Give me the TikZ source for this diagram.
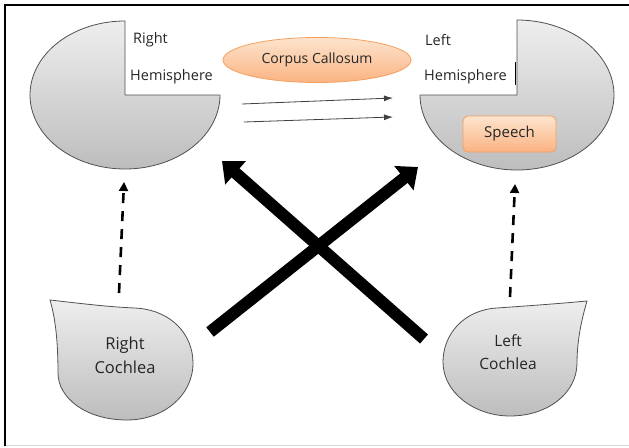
\documentclass[tikz,border=0pt]{standalone}
\usepackage{fontspec}
\setmainfont{Open Sans}
\usetikzlibrary{arrows.meta,shapes.geometric}
\definecolor{grayTop}{HTML}{EEEEEE}
\definecolor{grayBot}{HTML}{BDBDBD}
\definecolor{grayLine}{HTML}{505050}
\definecolor{orTop}{HTML}{FDE4CE}
\definecolor{orBot}{HTML}{FAB382}
\definecolor{orLine}{HTML}{F4A060}
\tikzset{
  grayshape/.style={draw=grayLine, line width=0.8pt, top color=grayTop, bottom color=grayBot},
  orangeshape/.style={draw=orLine, line width=0.8pt, top color=orTop, bottom color=orBot},
  lbl/.style={font=\fontsize{14.5}{16}\selectfont, inner sep=0pt, text=black!85},
  thinarrow/.style={draw=black!75, line width=0.8pt, -{Latex[length=9pt,width=6pt]}},
  dasharrow/.style={draw=black, line width=2.6pt, dash pattern=on 10pt off 8pt, -{Triangle[length=9pt,width=9pt]}},
  bigarrow/.style={draw=black, line width=12pt, -{Triangle[length=18pt,width=30pt]}},
}
\begin{document}
\begin{tikzpicture}[x=1pt,y=-1pt]
\useasboundingbox (0,0) rectangle (629,447);
\fill[white] (0,0) rectangle (629,447);
% frame
\draw[black!15, line width=1.2pt] (5,445.5) -- (629,445.5);
\draw[black, line width=2.2pt] (5,446) -- (5,5) -- (629,5);
% right hemisphere (missing top-right quadrant)
\path[grayshape] (125,95) -- plot[domain=90:360, samples=90, smooth] ({125+95*cos(\x)},{95-74*sin(\x)}) -- cycle;
\coordinate (RH) at (125,95);
% left hemisphere (missing top-left quadrant)
\path[grayshape] (517,95) -- plot[domain=90:-180, samples=90, smooth] ({517+97*cos(\x)},{95-75*sin(\x)}) -- cycle;
\coordinate (LH) at (517,95);
\draw[black, line width=0.9pt] (515,62) -- (515,85);
% labels
\node[lbl, anchor=west] (rt) at (133,40) {Right};
\node[lbl, anchor=west] (rh) at (130,77) {Hemisphere};
\node[lbl, anchor=west] (lt) at (425,40) {Left};
\node[lbl, anchor=west] (lhem) at (424,77) {Hemisphere};
% corpus callosum
\node[ellipse, orangeshape, minimum width=188pt, minimum height=45pt, lbl, font=\fontsize{14}{16}\selectfont] (cc) at (317,60) {Corpus Callosum};
% speech
\node[orangeshape, rounded corners=5pt, minimum width=93pt, minimum height=36pt, lbl, font=\fontsize{15}{16}\selectfont] (sp) at (509.5,134) {Speech};
% thin arrows
\coordinate (a1s) at (242,104); \coordinate (a1e) at (393,98);
\coordinate (a2s) at (244,122); \coordinate (a2e) at (393,117);
\draw[thinarrow] (a1s) -- (a1e);
\draw[thinarrow] (a2s) -- (a2e);
% cochleas
\path[grayshape] (50,300) .. controls (85,304) and (110,307) .. (135,308)
  .. controls (172,310) and (193,335) .. (193,363)
  .. controls (193,396) and (163,420) .. (127,420)
  .. controls (86,420) and (58,398) .. (58,373)
  .. controls (58,345) and (56,320) .. (50,300) -- cycle;
\node[lbl, align=center, font=\fontsize{16.5}{24}\selectfont] (rc) at (125,355) {Right\\Cochlea};
\path[grayshape] (587,301) .. controls (555,304) and (525,306) .. (497,308)
  .. controls (463,310) and (443,335) .. (443,362)
  .. controls (443,393) and (475,416) .. (510,416)
  .. controls (548,416) and (577,393) .. (577,363)
  .. controls (577,340) and (582,318) .. (587,301) -- cycle;
\node[lbl, align=center, font=\fontsize{15.5}{23}\selectfont] (lc) at (508,352) {Left\\Cochlea};
% dashed arrows
\coordinate (d1s) at (119,293); \coordinate (d1e) at (124,182);
\coordinate (d2s) at (510,297); \coordinate (d2e) at (515,184);
\draw[dasharrow] (d1s) -- (d1e);
\draw[dasharrow] (d2s) -- (d2e);
% big cross arrows
\coordinate (x1s) at (424,339); \coordinate (x1e) at (222,161);
\coordinate (x2s) at (210,332); \coordinate (x2e) at (418,167);
\draw[bigarrow] (x1s) -- (x1e);
\draw[bigarrow] (x2s) -- (x2e);
\end{tikzpicture}
\end{document}
